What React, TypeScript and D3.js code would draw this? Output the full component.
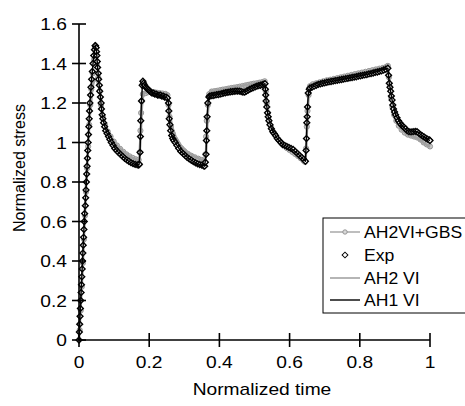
import React from 'react';
import * as d3 from 'd3';

const xTickValues = [0, 0.2, 0.4, 0.6, 0.8, 1];
const xTickLabels = ['0', '0.2', '0.4', '0.6', '0.8', '1'];
const yTickValues = [0, 0.2, 0.4, 0.6, 0.8, 1, 1.2, 1.4, 1.6];
const yTickLabels = ['0', '0.2', '0.4', '0.6', '0.8', '1', '1.2', '1.4', '1.6'];
const xTitle = 'Normalized time';
const yTitle = 'Normalized stress';
const legendLabels = ['AH2VI+GBS', 'Exp', 'AH2 VI', 'AH1 VI'];

// Exp (diamonds): [time, stress]
const expData: [number, number][] = [
  [0.000, 0.00], [0.001, 0.04], [0.002, 0.08], [0.003, 0.12], [0.004, 0.16], [0.005, 0.20], [0.006, 0.24], [0.007, 0.28],
  [0.008, 0.32], [0.009, 0.36], [0.010, 0.40], [0.011, 0.44], [0.012, 0.48], [0.013, 0.52], [0.014, 0.56], [0.015, 0.60],
  [0.016, 0.64], [0.018, 0.68], [0.019, 0.72], [0.020, 0.76], [0.021, 0.80], [0.022, 0.84], [0.023, 0.88], [0.024, 0.92],
  [0.025, 0.96], [0.026, 1.00], [0.027, 1.04], [0.028, 1.08], [0.029, 1.12], [0.030, 1.16], [0.031, 1.20], [0.033, 1.24],
  [0.034, 1.28], [0.036, 1.32], [0.038, 1.36], [0.040, 1.40], [0.042, 1.44], [0.044, 1.47], [0.046, 1.49], [0.047, 1.49],
  [0.049, 1.48], [0.050, 1.46],
  [0.051, 1.44], [0.052, 1.41], [0.053, 1.38], [0.055, 1.35], [0.056, 1.32], [0.058, 1.29], [0.059, 1.26], [0.061, 1.23],
  [0.063, 1.20], [0.064, 1.17], [0.066, 1.14], [0.068, 1.12], [0.070, 1.10], [0.073, 1.08], [0.076, 1.06], [0.080, 1.045],
  [0.084, 1.03], [0.088, 1.015], [0.092, 1.00], [0.097, 0.985], [0.102, 0.97], [0.107, 0.96], [0.112, 0.95], [0.118, 0.94],
  [0.124, 0.93], [0.130, 0.92], [0.136, 0.912], [0.142, 0.905], [0.148, 0.898], [0.154, 0.893], [0.160, 0.889], [0.166, 0.887],
  [0.170, 0.886], [0.172, 0.89],
  [0.174, 0.95], [0.175, 1.03], [0.176, 1.11], [0.178, 1.21], [0.180, 1.29], [0.182, 1.31],
  [0.184, 1.30], [0.187, 1.29], [0.190, 1.28], [0.193, 1.275], [0.196, 1.27], [0.199, 1.265], [0.202, 1.26], [0.205, 1.255],
  [0.208, 1.25], [0.212, 1.25], [0.216, 1.245], [0.220, 1.245], [0.224, 1.24], [0.228, 1.24], [0.232, 1.24], [0.236, 1.235],
  [0.240, 1.235], [0.244, 1.23], [0.248, 1.23], [0.252, 1.225],
  [0.255, 1.20], [0.256, 1.16], [0.257, 1.12], [0.259, 1.09], [0.261, 1.06], [0.264, 1.035], [0.267, 1.02], [0.270, 1.01],
  [0.274, 1.00], [0.279, 0.985], [0.284, 0.97], [0.290, 0.955], [0.296, 0.945], [0.302, 0.935], [0.308, 0.925], [0.314, 0.917],
  [0.320, 0.91], [0.326, 0.903], [0.332, 0.897], [0.338, 0.892], [0.344, 0.888], [0.350, 0.885], [0.355, 0.882], [0.358, 0.880],
  [0.360, 0.90], [0.362, 0.94], [0.363, 1.01], [0.364, 1.06], [0.365, 1.13], [0.367, 1.20], [0.370, 1.23],
  [0.372, 1.235], [0.377, 1.237], [0.382, 1.238], [0.387, 1.24], [0.392, 1.242], [0.397, 1.243], [0.402, 1.245], [0.407, 1.247],
  [0.412, 1.25], [0.417, 1.252], [0.422, 1.254], [0.427, 1.255], [0.432, 1.257], [0.437, 1.258], [0.442, 1.259], [0.447, 1.26],
  [0.452, 1.26], [0.457, 1.26], [0.462, 1.258], [0.467, 1.255], [0.472, 1.255], [0.477, 1.26], [0.482, 1.265], [0.487, 1.27],
  [0.492, 1.274], [0.497, 1.278], [0.502, 1.282], [0.507, 1.285], [0.512, 1.288], [0.517, 1.29], [0.522, 1.293], [0.527, 1.296],
  [0.530, 1.298],
  [0.531, 1.27], [0.532, 1.24], [0.533, 1.21], [0.535, 1.18], [0.537, 1.15], [0.539, 1.13], [0.541, 1.11], [0.544, 1.09],
  [0.548, 1.07], [0.552, 1.055], [0.556, 1.045], [0.560, 1.035], [0.565, 1.02], [0.570, 1.01], [0.575, 1.00], [0.580, 0.99],
  [0.586, 0.985], [0.592, 0.98], [0.598, 0.975], [0.604, 0.97], [0.610, 0.965], [0.616, 0.955], [0.622, 0.945], [0.628, 0.935],
  [0.634, 0.925], [0.640, 0.915], [0.645, 0.905],
  [0.647, 0.96], [0.648, 1.02], [0.649, 1.10], [0.650, 1.13], [0.651, 1.18], [0.653, 1.25], [0.656, 1.27],
  [0.658, 1.276], [0.664, 1.28], [0.670, 1.285], [0.676, 1.29], [0.682, 1.294], [0.688, 1.297], [0.694, 1.30], [0.700, 1.302],
  [0.706, 1.305], [0.712, 1.307], [0.718, 1.309], [0.724, 1.311], [0.730, 1.313], [0.736, 1.315], [0.742, 1.317], [0.748, 1.319],
  [0.754, 1.321], [0.760, 1.323], [0.766, 1.325], [0.772, 1.327], [0.778, 1.329], [0.784, 1.331], [0.790, 1.333], [0.796, 1.336],
  [0.802, 1.338], [0.808, 1.34], [0.814, 1.342], [0.820, 1.344], [0.826, 1.347], [0.832, 1.349], [0.838, 1.352], [0.844, 1.355],
  [0.850, 1.357], [0.856, 1.36], [0.862, 1.363], [0.868, 1.367], [0.874, 1.371], [0.880, 1.376],
  [0.882, 1.34], [0.884, 1.30], [0.886, 1.28], [0.888, 1.26], [0.890, 1.235], [0.892, 1.215], [0.894, 1.19], [0.896, 1.17],
  [0.899, 1.155], [0.902, 1.14], [0.906, 1.125], [0.910, 1.11], [0.914, 1.10], [0.918, 1.09], [0.922, 1.083], [0.926, 1.077],
  [0.930, 1.07], [0.935, 1.06], [0.940, 1.055], [0.946, 1.054], [0.952, 1.055], [0.958, 1.056], [0.963, 1.055], [0.968, 1.047],
  [0.973, 1.04], [0.978, 1.034], [0.983, 1.028], [0.988, 1.022], [0.993, 1.017], [0.998, 1.013], [1.000, 1.01],
];

// AH2VI+GBS (grey circles)
const gbsData: [number, number][] = [
  [0.002, 0.05], [0.005, 0.15], [0.008, 0.27], [0.011, 0.39], [0.014, 0.51], [0.017, 0.63], [0.020, 0.75], [0.023, 0.87],
  [0.026, 0.98], [0.029, 1.09], [0.032, 1.19], [0.035, 1.27], [0.039, 1.35], [0.043, 1.42], [0.047, 1.45], [0.051, 1.40],
  [0.055, 1.33], [0.059, 1.26], [0.063, 1.19], [0.068, 1.13], [0.074, 1.09], [0.082, 1.055], [0.090, 1.03], [0.099, 1.005],
  [0.108, 0.985], [0.117, 0.968], [0.126, 0.953], [0.135, 0.94], [0.144, 0.93], [0.153, 0.922], [0.162, 0.915], [0.170, 0.912],
  [0.173, 0.95], [0.175, 1.06], [0.177, 1.15], [0.179, 1.21], [0.182, 1.245],
  [0.190, 1.25], [0.198, 1.255], [0.206, 1.255], [0.214, 1.255], [0.222, 1.252], [0.230, 1.25], [0.238, 1.248], [0.246, 1.246],
  [0.252, 1.24],
  [0.255, 1.19], [0.258, 1.13], [0.262, 1.08], [0.267, 1.045], [0.274, 1.015], [0.282, 0.99], [0.291, 0.97], [0.300, 0.955],
  [0.310, 0.943], [0.320, 0.933], [0.330, 0.925], [0.340, 0.918], [0.350, 0.912], [0.357, 0.908],
  [0.360, 0.94], [0.362, 1.03], [0.364, 1.11], [0.367, 1.19], [0.371, 1.245],
  [0.378, 1.258], [0.386, 1.26], [0.394, 1.262], [0.402, 1.265], [0.410, 1.268], [0.418, 1.27], [0.426, 1.273], [0.434, 1.276],
  [0.442, 1.278], [0.450, 1.28], [0.458, 1.283], [0.466, 1.286], [0.474, 1.289], [0.482, 1.292], [0.490, 1.295], [0.498, 1.298],
  [0.506, 1.30], [0.514, 1.303], [0.522, 1.306], [0.529, 1.31],
  [0.532, 1.26], [0.535, 1.20], [0.538, 1.15], [0.542, 1.11], [0.547, 1.08], [0.553, 1.055], [0.560, 1.035], [0.568, 1.015],
  [0.576, 1.00], [0.584, 0.985], [0.592, 0.972], [0.600, 0.962], [0.608, 0.952], [0.616, 0.942], [0.624, 0.932], [0.632, 0.92],
  [0.640, 0.908], [0.644, 0.902],
  [0.647, 0.97], [0.649, 1.08], [0.651, 1.16], [0.654, 1.24], [0.658, 1.285],
  [0.666, 1.295], [0.676, 1.30], [0.686, 1.305], [0.696, 1.31], [0.706, 1.315], [0.716, 1.318], [0.726, 1.322], [0.736, 1.326],
  [0.746, 1.33], [0.756, 1.334], [0.766, 1.338], [0.776, 1.342], [0.786, 1.346], [0.796, 1.35], [0.806, 1.354], [0.816, 1.358],
  [0.826, 1.362], [0.836, 1.366], [0.846, 1.37], [0.856, 1.374], [0.866, 1.378], [0.876, 1.384], [0.880, 1.388],
  [0.883, 1.33], [0.886, 1.28], [0.889, 1.23], [0.893, 1.18], [0.898, 1.14], [0.904, 1.11], [0.911, 1.085], [0.919, 1.065],
  [0.928, 1.05], [0.937, 1.04], [0.946, 1.035], [0.955, 1.03], [0.964, 1.025], [0.973, 1.015], [0.982, 1.00], [0.991, 0.99],
  [1.000, 0.98],
];

// AH2 VI (grey line)
const ah2Data: [number, number][] = [
  [0, 0], [0.010, 0.36], [0.020, 0.78], [0.030, 1.12], [0.038, 1.28], [0.044, 1.32], [0.052, 1.31], [0.058, 1.28],
  [0.063, 1.22], [0.068, 1.15], [0.075, 1.09], [0.085, 1.045], [0.095, 1.015], [0.110, 0.98], [0.125, 0.955], [0.140, 0.935],
  [0.155, 0.92], [0.168, 0.91], [0.172, 0.915], [0.176, 1.05], [0.179, 1.18], [0.183, 1.245], [0.190, 1.255], [0.210, 1.258],
  [0.230, 1.252], [0.252, 1.245], [0.256, 1.20], [0.260, 1.13], [0.265, 1.08], [0.275, 1.03], [0.290, 0.985], [0.310, 0.95],
  [0.330, 0.928], [0.350, 0.912], [0.358, 0.908], [0.362, 0.95], [0.366, 1.12], [0.370, 1.23], [0.376, 1.26], [0.400, 1.266],
  [0.430, 1.276], [0.460, 1.285], [0.490, 1.296], [0.528, 1.31], [0.532, 1.27], [0.537, 1.18], [0.543, 1.11], [0.552, 1.06],
  [0.565, 1.025], [0.580, 0.995], [0.600, 0.962], [0.620, 0.938], [0.640, 0.905], [0.645, 0.90], [0.648, 1.00], [0.651, 1.15],
  [0.655, 1.26], [0.662, 1.292], [0.700, 1.31], [0.750, 1.332], [0.800, 1.352], [0.850, 1.372], [0.880, 1.39], [0.884, 1.33],
  [0.889, 1.25], [0.895, 1.17], [0.905, 1.11], [0.920, 1.065], [0.935, 1.042], [0.950, 1.032], [0.965, 1.022], [0.980, 1.00],
  [1.000, 0.978],
];

// AH1 VI (black line)
const ah1Data: [number, number][] = [
  [0, 0], [0.005, 0.20], [0.010, 0.40], [0.015, 0.60], [0.021, 0.80], [0.026, 1.00], [0.031, 1.20], [0.036, 1.32],
  [0.040, 1.40], [0.044, 1.47], [0.047, 1.49], [0.050, 1.46], [0.053, 1.38], [0.057, 1.30], [0.061, 1.23], [0.066, 1.14],
  [0.072, 1.09], [0.080, 1.045], [0.092, 1.00], [0.107, 0.96], [0.124, 0.93], [0.142, 0.905], [0.160, 0.889], [0.171, 0.886],
  [0.174, 0.95], [0.176, 1.11], [0.178, 1.21], [0.181, 1.30], [0.184, 1.30], [0.196, 1.27], [0.212, 1.25], [0.232, 1.24],
  [0.252, 1.225], [0.255, 1.20], [0.258, 1.10], [0.264, 1.035], [0.274, 1.00], [0.290, 0.955], [0.314, 0.917], [0.338, 0.892],
  [0.358, 0.880], [0.362, 0.94], [0.365, 1.13], [0.368, 1.21], [0.372, 1.235], [0.402, 1.245], [0.442, 1.259], [0.462, 1.258],
  [0.472, 1.255], [0.492, 1.274], [0.530, 1.298], [0.533, 1.21], [0.539, 1.13], [0.548, 1.07], [0.565, 1.02], [0.580, 0.99],
  [0.604, 0.97], [0.622, 0.945], [0.645, 0.905], [0.648, 1.02], [0.651, 1.18], [0.654, 1.26], [0.664, 1.28], [0.700, 1.302],
  [0.760, 1.323], [0.820, 1.344], [0.880, 1.376], [0.884, 1.30], [0.892, 1.215], [0.902, 1.14], [0.918, 1.09], [0.935, 1.06],
  [0.963, 1.055], [0.983, 1.028], [1.000, 1.01],
];

const W = 465;
const H = 406;
const FONT = '"Liberation Sans", Arial, Helvetica, sans-serif';
const SX = 1.2; // horizontal stretch of glyphs seen in the reference
const SX_LEGEND = 1.1;

export default function App() {
  const x = d3.scaleLinear().domain([0, 1]).range([79, 430]);
  const y = d3.scaleLinear().domain([0, 1.6]).range([340, 24]);
  const line = d3.line<[number, number]>().x(d => x(d[0])).y(d => y(d[1]));
  const diamond = d3.symbol().type(d3.symbolSquare).size(17)() as string;

  const legendX = 323;
  const legendY = 218;
  const rowY = [232, 255, 278, 300];

  const hText = (tx: number, ty: number, s: string, anchor: string, key?: string, sx: number = SX) => (
    <text key={key} transform={`translate(${tx},${ty}) scale(${sx},1)`} textAnchor={anchor}
      fontFamily={FONT} fontSize={16} fill="#000">{s}</text>
  );

  return (
    <svg width={W} height={H} style={{ position: 'absolute', left: 0, top: 0, background: '#fff' }}>
      <rect x={0} y={0} width={W} height={H} fill="#fff" />
      {/* AH2VI+GBS circles */}
      <g>
        {gbsData.map((d, i) => (
          <circle key={i} cx={x(d[0])} cy={y(d[1])} r={2.6} fill="#c8c8c8" stroke="#8f8f8f" strokeWidth={0.9} />
        ))}
      </g>
      {/* AH2 VI grey line */}
      <path d={line(ah2Data) || ''} fill="none" stroke="#a0a0a0" strokeWidth={2.6} strokeLinejoin="round" />
      {/* Exp diamonds */}
      <g>
        {expData.map((d, i) => (
          <path key={i} d={diamond} transform={`translate(${x(d[0])},${y(d[1])}) rotate(45)`}
            fill="#fff" stroke="#000" strokeWidth={1.4} />
        ))}
      </g>
      {/* AH1 VI black line */}
      <path d={line(ah1Data) || ''} fill="none" stroke="#000" strokeWidth={1.4} strokeLinejoin="round" />

      {/* axes */}
      <line x1={x(0)} x2={x(1)} y1={y(0)} y2={y(0)} stroke="#000" strokeWidth={1.6} />
      <line x1={x(0)} x2={x(0)} y1={y(0)} y2={y(1.6)} stroke="#000" strokeWidth={1.6} />
      {xTickValues.map((v, i) => (
        <g key={'xt' + i}>
          <line x1={x(v)} x2={x(v)} y1={y(0) - 7} y2={y(0) + 7} stroke="#000" strokeWidth={1.6} />
          {hText(x(v), 368, xTickLabels[i], 'middle')}
        </g>
      ))}
      {yTickValues.map((v, i) => (
        <g key={'yt' + i}>
          <line x1={x(0) - 7} x2={x(0) + 7} y1={y(v)} y2={y(v)} stroke="#000" strokeWidth={1.6} />
          {hText(67, y(v) + 6, yTickLabels[i], 'end')}
        </g>
      ))}
      {hText(262, 395, xTitle, 'middle')}
      <text transform={`translate(25,${168}) rotate(-90)`} textAnchor="middle" fontFamily={FONT} fontSize={16} fill="#000">{yTitle}</text>

      {/* legend */}
      <rect x={legendX} y={legendY} width={160} height={95} fill="#fff" stroke="#000" strokeWidth={1} />
      <line x1={330} x2={360} y1={rowY[0]} y2={rowY[0]} stroke="#a2a2a2" strokeWidth={1.4} />
      <circle cx={345} cy={rowY[0]} r={2.2} fill="#d8d8d8" stroke="#8f8f8f" strokeWidth={0.9} />
      <path d={diamond} transform={`translate(345,${rowY[1]}) rotate(45)`} fill="#fff" stroke="#000" strokeWidth={1} />
      <line x1={330} x2={360} y1={rowY[2]} y2={rowY[2]} stroke="#a2a2a2" strokeWidth={1.6} />
      <line x1={330} x2={360} y1={rowY[3]} y2={rowY[3]} stroke="#000" strokeWidth={1.4} />
      {legendLabels.map((s, i) => hText(364, rowY[i] + 6, s, 'start', 'lg' + i, SX_LEGEND))}
    </svg>
  );
}
